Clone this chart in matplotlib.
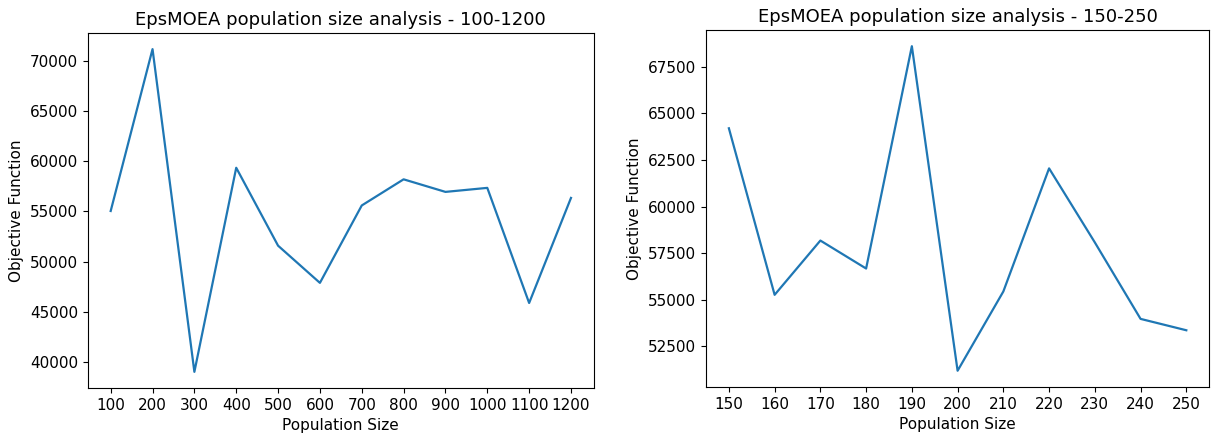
import matplotlib
matplotlib.use("Agg")
import matplotlib.pyplot as plt

# Left chart data
pop_sizes_1 = [100, 200, 300, 400, 500, 600, 700, 800, 900, 1000, 1100, 1200]
objective_1 = [55050, 71150, 39050, 59350, 51600, 47900, 55600, 58200, 56950, 57350, 45900, 56350]

# Right chart data
pop_sizes_2 = [150, 160, 170, 180, 190, 200, 210, 220, 230, 240, 250]
objective_2 = [64200, 55270, 58180, 56680, 68600, 51200, 55450, 62050, 58080, 53980, 53370]

title_1 = "EpsMOEA population size analysis - 100-1200"
title_2 = "EpsMOEA population size analysis - 150-250"

fig = plt.figure(figsize=(12.11, 4.43), dpi=100)
ax1 = fig.add_axes([0.0724, 0.1242, 0.4181, 0.8013])
ax2 = fig.add_axes([0.583, 0.1265, 0.4155, 0.8058])

for ax, x, y, t in [(ax1, pop_sizes_1, objective_1, title_1),
                    (ax2, pop_sizes_2, objective_2, title_2)]:
    ax.plot(x, y, color="#1f77b4", linewidth=1.6)
    ax.set_xticks(x)
    ax.set_xticklabels([str(v) for v in x])
    ax.set_title(t, fontsize=13)
    ax.set_xlabel("Population Size", fontsize=11)
    ax.set_ylabel("Objective Function", fontsize=11)
    ax.tick_params(labelsize=11)

ax1.set_yticks([40000, 45000, 50000, 55000, 60000, 65000, 70000])
ax2.set_yticks([52500, 55000, 57500, 60000, 62500, 65000, 67500])

fig.savefig("out.png", dpi=100)
